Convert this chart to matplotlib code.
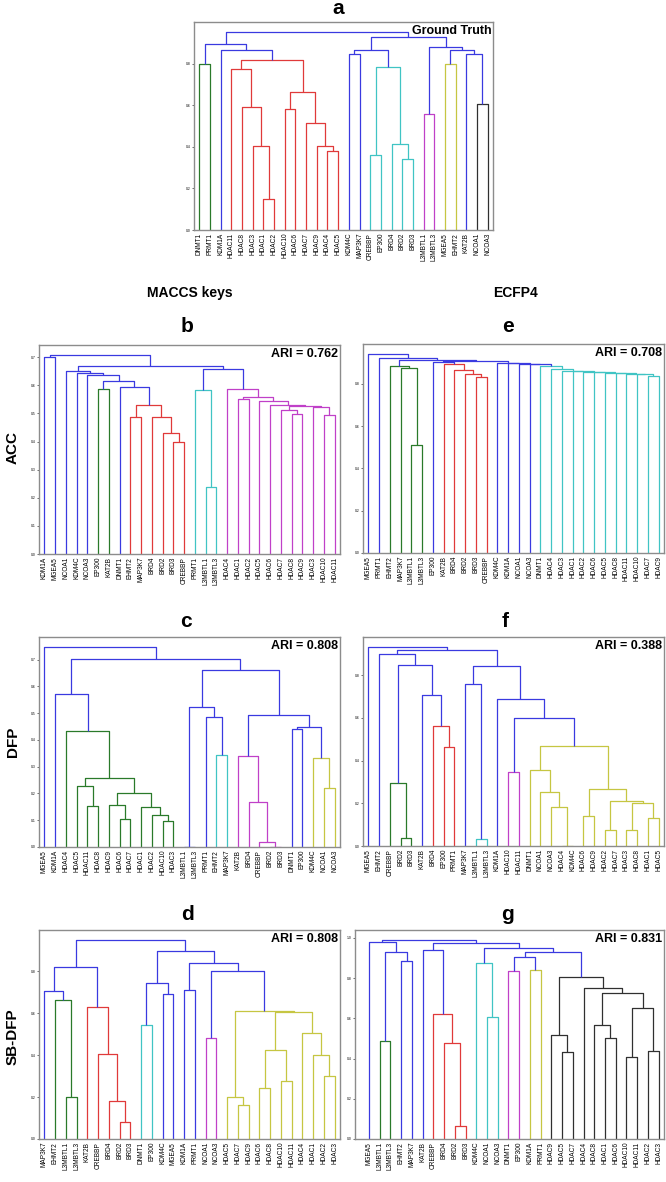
import matplotlib
matplotlib.use('Agg')
import matplotlib.pyplot as plt
from matplotlib.ticker import MultipleLocator, FormatStrFormatter

plt.rcParams['font.family'] = ['Liberation Sans', 'DejaVu Sans']

# each link: (left, right, height, colour) ; leaves are target names
# --- a : ground truth
red_a = (('HDAC11', ('HDAC8', ('HDAC3', ('HDAC1', 'HDAC2', 0.149, 'r'), 0.406, 'r'), 0.593, 'r'), 0.772, 'r'),
         (('HDAC10', 'HDAC6', 0.583, 'r'),
          ('HDAC7', ('HDAC9', ('HDAC4', 'HDAC5', 0.382, 'r'), 0.403, 'r'), 0.516, 'r'), 0.665, 'r'), 0.819, 'r')
right_a = ((('KDM4C', 'MAP3K7', 0.845, 'b'),
            (('CREBBP', 'EP300', 0.361, 'c'), ('BRD4', ('BRD2', 'BRD3', 0.343, 'c'), 0.412, 'c'), 0.784, 'c'), 0.866, 'b'),
           (('L3MBTL1', 'L3MBTL3', 0.556, 'm'),
            (('MGEA5', 'EHMT2', 0.80, 'y'), ('KAT2B', ('NCOA1', 'NCOA3', 0.607, 'k'), 0.847, 'b'), 0.866, 'b'), 0.880, 'b'),
           0.928, 'b')
tree_a = ((('DNMT1', 'PRMT1', 0.80, 'g'), ('KDM1A', red_a, 0.867, 'b'), 0.896, 'b'), right_a, 0.952, 'b')

# --- b : MACCS / ACC
red_b = (('EHMT2', 'MAP3K7', 0.486, 'r'),
         ('BRD4', ('BRD2', ('BRD3', 'CREBBP', 0.399, 'r'), 0.429, 'r'), 0.488, 'r'), 0.531, 'r')
blue_b = ('NCOA1', ('KDM4C', ('NCOA3', (('EP300', 'KAT2B', 0.588, 'g'), ('DNMT1', red_b, 0.593, 'b'), 0.615, 'b'),
                               0.638, 'b'), 0.643, 'b'), 0.652, 'b')
cyan_b = ('PRMT1', ('L3MBTL1', 'L3MBTL3', 0.240, 'c'), 0.584, 'c')
mag_b = ('HDAC4', (('HDAC1', 'HDAC2', 0.552, 'm'),
                   ('HDAC5', ('HDAC6', (('HDAC7', ('HDAC8', 'HDAC9', 0.499, 'm'), 0.512, 'm'),
                                        ('HDAC3', ('HDAC10', 'HDAC11', 0.495, 'm'), 0.522, 'm'), 0.527, 'm'),
                              0.531, 'm'), 0.543, 'm'), 0.558, 'm'), 0.588, 'm')
tree_b = (('KDM1A', 'MGEA5', 0.702, 'b'), (blue_b, (cyan_b, mag_b, 0.659, 'b'), 0.667, 'b'), 0.708, 'b')

# --- e : ECFP4 / ACC
green_e = ('EHMT2', ('MAP3K7', ('L3MBTL1', 'L3MBTL3', 0.509, 'g'), 0.874, 'g'), 0.887, 'g')
red_e = ('KAT2B', ('BRD4', ('BRD2', ('BRD3', 'CREBBP', 0.835, 'r'), 0.846, 'r'), 0.868, 'r'), 0.893, 'r')
cyan_e = ('DNMT1', ('HDAC4', ('HDAC3', ('HDAC1', ('HDAC2', ('HDAC6', ('HDAC5', ('HDAC8', ('HDAC11', ('HDAC10',
          ('HDAC7', 'HDAC9', 0.838, 'c'), 0.845, 'c'), 0.849, 'c'), 0.851, 'c'), 0.853, 'c'), 0.855, 'c'),
          0.857, 'c'), 0.859, 'c'), 0.862, 'c'), 0.872, 'c'), 0.887, 'c')
chain_e = ('KDM4C', ('KDM1A', ('NCOA1', ('NCOA3', cyan_e, 0.894, 'b'), 0.896, 'b'), 0.898, 'b'), 0.901, 'b')
tree_e = ('MGEA5', ('PRMT1', (green_e, (('EP300', red_e, 0.904, 'b'), chain_e, 0.909, 'b'), 0.913, 'b'),
                    0.925, 'b'), 0.942, 'b')

# --- c : MACCS / DFP
green_c = ('HDAC4', (('HDAC5', ('HDAC11', 'HDAC8', 0.152, 'g'), 0.226, 'g'),
                     (('HDAC9', ('HDAC6', 'HDAC7', 0.106, 'g'), 0.158, 'g'),
                      ('HDAC1', ('HDAC2', ('HDAC10', 'HDAC3', 0.097, 'g'), 0.119, 'g'), 0.150, 'g'), 0.203, 'g'),
                     0.256, 'g'), 0.433, 'g')
mid_c = (('L3MBTL1', 'L3MBTL3', 0.0, 'b'), ('PRMT1', ('EHMT2', 'MAP3K7', 0.343, 'c'), 0.487, 'b'), 0.524, 'b')
mag_c = ('KAT2B', ('BRD4', ('CREBBP', ('BRD2', 'BRD3', 0.0, 'm'), 0.019, 'm'), 0.168, 'm'), 0.341, 'm')
right_c = (mag_c, (('DNMT1', 'EP300', 0.439, 'b'), ('KDM4C', ('NCOA1', 'NCOA3', 0.221, 'y'), 0.333, 'y'), 0.447, 'b'),
           0.492, 'b')
tree_c = ('MGEA5', (('KDM1A', green_c, 0.570, 'b'), (mid_c, right_c, 0.661, 'b'), 0.703, 'b'), 0.747, 'b')

# --- f : ECFP4 / DFP
left_f = ('EHMT2', (('CREBBP', ('BRD2', 'BRD3', 0.036, 'g'), 0.296, 'g'),
                    ('KAT2B', ('BRD4', ('EP300', 'PRMT1', 0.462, 'r'), 0.563, 'r'), 0.707, 'b'), 0.847, 'b'), 0.899, 'b')
yellow_f = (('DNMT1', ('NCOA1', ('NCOA3', ('HDAC4', 'KDM4C', 0.0, 'y'), 0.181, 'y'), 0.251, 'y'), 0.356, 'y'),
            (('HDAC6', 'HDAC9', 0.140, 'y'),
             (('HDAC2', 'HDAC7', 0.075, 'y'), (('HDAC3', 'HDAC8', 0.075, 'y'), ('HDAC1', 'HDAC5', 0.129, 'y'), 0.200, 'y'),
              0.212, 'y'), 0.267, 'y'), 0.470, 'y')
right_f = (('MAP3K7', ('L3MBTL1', 'L3MBTL3', 0.033, 'c'), 0.760, 'b'),
           ('KDM1A', (('HDAC10', 'HDAC11', 0.348, 'm'), yellow_f, 0.601, 'b'), 0.691, 'b'), 0.844, 'b')
tree_f = ('MGEA5', (left_f, right_f, 0.920, 'b'), 0.933, 'b')

# --- d : MACCS / SB-DFP
left_d = (('MAP3K7', ('EHMT2', ('L3MBTL1', 'L3MBTL3', 0.199, 'g'), 0.662, 'g'), 0.705, 'b'),
          ('KAT2B', ('CREBBP', ('BRD4', ('BRD2', 'BRD3', 0.083, 'r'), 0.183, 'r'), 0.407, 'r'), 0.630, 'r'), 0.821, 'b')
yellow_d = (('HDAC5', ('HDAC7', 'HDAC9', 0.161, 'y'), 0.199, 'y'),
            ((('HDAC6', 'HDAC8', 0.245, 'y'), ('HDAC10', 'HDAC11', 0.275, 'y'), 0.423, 'y'),
             ('HDAC4', ('HDAC1', ('HDAC2', 'HDAC3', 0.302, 'y'), 0.398, 'y'), 0.507, 'y'), 0.603, 'y'), 0.611, 'y')
right_d = ((('DNMT1', 'EP300', 0.542, 'c'), ('KDM4C', 'MGEA5', 0.689, 'b'), 0.744, 'b'),
           (('KDM1A', 'PRMT1', 0.709, 'b'), (('NCOA1', 'NCOA3', 0.482, 'm'), yellow_d, 0.802, 'b'), 0.837, 'b'),
           0.895, 'b')
tree_d = (left_d, right_d, 0.948, 'b')

# --- g : ECFP4 / SB-DFP
left_g = ('MGEA5', (('L3MBTL1', 'L3MBTL3', 0.488, 'g'), ('EHMT2', 'MAP3K7', 0.887, 'b'), 0.929, 'b'), 0.978, 'b')
red_g = ('CREBBP', ('BRD4', ('BRD2', 'BRD3', 0.066, 'r'), 0.478, 'r'), 0.623, 'r')
black_g = (('HDAC9', ('HDAC5', 'HDAC7', 0.432, 'k'), 0.518, 'k'),
           ('HDAC4', (('HDAC8', ('HDAC1', 'HDAC6', 0.503, 'k'), 0.566, 'k'),
                      (('HDAC10', 'HDAC11', 0.407, 'k'), ('HDAC2', 'HDAC3', 0.437, 'k'), 0.652, 'k'), 0.727, 'k'),
            0.752, 'k'), 0.805, 'k')
right_g = (('KAT2B', red_g, 0.940, 'b'),
           (('KDM4C', ('NCOA1', 'NCOA3', 0.609, 'c'), 0.876, 'c'),
            ((('DNMT1', 'EP300', 0.838, 'm'), ('KDM1A', 'PRMT1', 0.841, 'y'), 0.906, 'b'), black_g, 0.930, 'b'),
            0.949, 'b'), 0.975, 'b')
tree_g = (left_g, right_g, 0.990, 'b')

ari = {'b': '0.762', 'e': '0.708', 'c': '0.808', 'f': '0.388', 'd': '0.808', 'g': '0.831'}

COLORS = {'b': '#3a3ae0', 'g': '#2a7a2a', 'r': '#e03a3a', 'c': '#40c4c4',
          'm': '#c040c8', 'y': '#c6c642', 'k': '#303030'}

W, H = 666, 1182
fig = plt.figure(figsize=(W / 100, H / 100), dpi=100)


def draw(ax, node, leaves):
    if isinstance(node, str):
        leaves.append(node)
        return 10 * len(leaves) - 5, 0.0
    left, right, h, c = node
    x1, h1 = draw(ax, left, leaves)
    x2, h2 = draw(ax, right, leaves)
    ax.plot([x1, x1, x2, x2], [h1, h, h, h2], color=COLORS[c], lw=0.9, solid_capstyle='butt')
    return (x1 + x2) / 2, h


def panel(tree, box, step, text, xmin=0):
    l, t, r, b = box
    ax = fig.add_axes([l / W, 1 - b / H, (r - l) / W, (b - t) / H])
    leaves = []
    draw(ax, tree, leaves)
    n = len(leaves)
    ax.set_xlim(xmin, 10 * n)
    ax.set_ylim(0, tree[2] * 1.05)
    ax.set_xticks([10 * i + 5 for i in range(n)])
    ax.set_xticklabels(leaves, rotation=90, fontsize=4.7)
    ax.yaxis.set_major_locator(MultipleLocator(step))
    ax.yaxis.set_major_formatter(FormatStrFormatter('%.1f'))
    ax.tick_params(axis='y', labelsize=2.4, length=1.5, width=0.4, pad=1)
    ax.tick_params(axis='x', length=0, pad=2)
    for s in ax.spines.values():
        s.set_color('#8c8c8c')
        s.set_linewidth(1.0)
    ax.text(0.995, 0.985, text, transform=ax.transAxes, ha='right', va='top',
            fontsize=9, fontweight='bold')
    return ax


panel(tree_a, (194, 22, 493, 230), 0.2, 'Ground Truth')
panel(tree_b, (39, 345, 340, 554), 0.1, 'ARI = ' + ari['b'])
panel(tree_e, (363, 344, 664, 553), 0.2, 'ARI = ' + ari['e'])
panel(tree_c, (39, 637, 340, 847), 0.1, 'ARI = ' + ari['c'])
panel(tree_f, (363, 637, 664, 846), 0.2, 'ARI = ' + ari['f'])
panel(tree_d, (39, 930, 340, 1139), 0.2, 'ARI = ' + ari['d'])
panel(tree_g, (355, 930, 664, 1139), 0.2, 'ARI = ' + ari['g'], xmin=-8)

# panel letters
for lab, x, y in [('a', 338, 8), ('b', 187, 327), ('e', 508, 327), ('c', 186, 622),
                  ('f', 505, 622), ('d', 187, 914), ('g', 508, 915)]:
    fig.text(x / W, 1 - y / H, lab, ha='center', va='center', fontsize=15, fontweight='bold')

fig.text(190 / W, 1 - 293 / H, 'MACCS keys', ha='center', va='center', fontsize=10, fontweight='bold')
fig.text(515 / W, 1 - 293 / H, 'ECFP4', ha='center', va='center', fontsize=10, fontweight='bold')
for lab, y in [('ACC', 447), ('DFP', 742), ('SB-DFP', 1037)]:
    fig.text(13 / W, 1 - y / H, lab, ha='center', va='center', rotation=90,
             fontsize=11, fontweight='bold')

fig.savefig('out.png', dpi=100)
